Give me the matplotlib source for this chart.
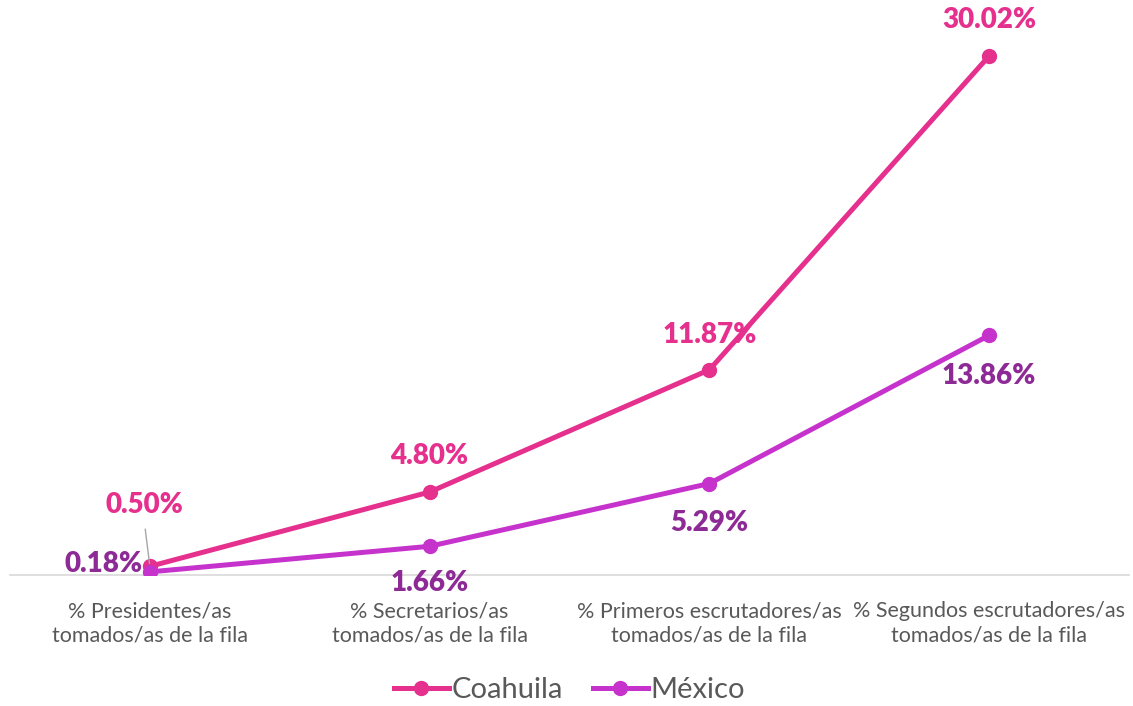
import matplotlib
matplotlib.use('Agg')
import matplotlib.pyplot as plt

plt.rcParams['font.family'] = ['Lato', 'DejaVu Sans']

categories = ['% Presidentes/as\ntomados/as de la fila',
              '% Secretarios/as\ntomados/as de la fila',
              '% Primeros escrutadores/as\ntomados/as de la fila',
              '% Segundos escrutadores/as\ntomados/as de la fila']
coahuila = [0.50, 4.80, 11.87, 30.02]
mexico = [0.18, 1.66, 5.29, 13.86]

c_coa = '#E5308E'
c_mex = '#C633CC'
c_mex_lab = '#8E2A96'

fig = plt.figure(figsize=(11.33, 7.06), dpi=100)
ax = fig.add_axes([10 / 1133, 131 / 706, 1119 / 1133, 575 / 706])

x = list(range(len(categories)))
ax.plot(x, coahuila, color=c_coa, lw=3.6, marker='o', ms=10, label='Coahuila', zorder=3)
ax.plot(x, mexico, color=c_mex, lw=3.6, marker='o', ms=10, label='México', zorder=4)

ax.set_xlim(-0.5, 3.5)
ax.set_ylim(0, 575 / 17.29)

# data labels (offsets in pixels)
coa_off = [(-5, 61), (0, 36), (0, 35), (0, 36)]
for xi, v, off in zip(x, coahuila, coa_off):
    ax.annotate('%.2f%%' % v, (xi, v), xytext=off, textcoords='offset pixels',
                ha='center', va='center', color=c_coa, fontsize=20, fontweight='heavy')
# leader line for first label
ax.annotate('', (0, coahuila[0]), xytext=(-5, 40), textcoords='offset pixels',
            arrowprops=dict(arrowstyle='-', color='#A6A6A6', lw=1))

mex_off = [(-46, 8), (0, -37), (0, -39), (0, -41)]
for xi, v, off in zip(x, mexico, mex_off):
    ax.annotate('%.2f%%' % v, (xi, v), xytext=off, textcoords='offset pixels',
                ha='center', va='center', color=c_mex_lab, fontsize=20, fontweight='heavy')

for s in ['top', 'right', 'left']:
    ax.spines[s].set_visible(False)
ax.spines['bottom'].set_color('#D9D9D9')
ax.spines['bottom'].set_linewidth(1.2)
ax.set_yticks([])
ax.set_xticks(x)
ax.set_xticklabels(categories, color='#595959', fontsize=15.5, linespacing=1.25)
ax.tick_params(axis='x', length=0, pad=19)

ax.legend(loc='center', bbox_to_anchor=(0.5, -115 / 575), ncol=2, frameon=False,
          fontsize=21, labelcolor='#595959', handlelength=1.9, handletextpad=0.1,
          columnspacing=1.0, borderaxespad=0)

fig.savefig('out.png', dpi=100)
